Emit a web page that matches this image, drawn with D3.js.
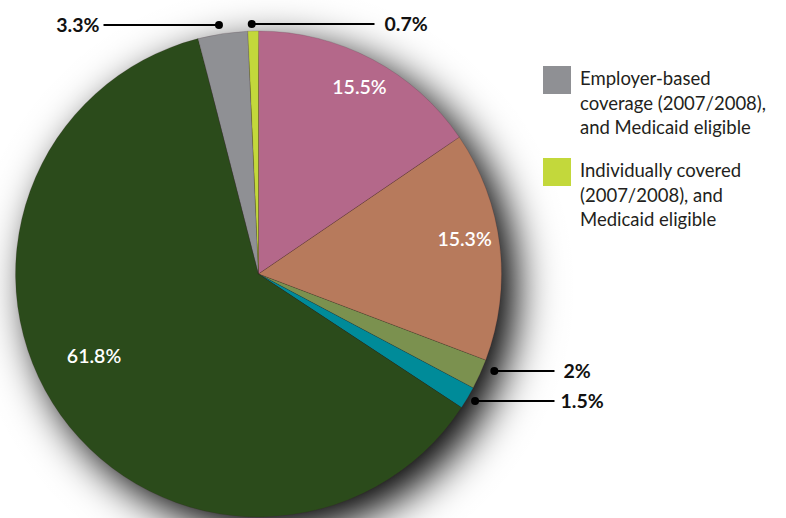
<!DOCTYPE html>
<html>
<head>
<meta charset="utf-8">
<script src="https://cdn.jsdelivr.net/npm/d3@7/dist/d3.min.js"></script>
<style>
  html, body { margin: 0; padding: 0; background: #fff; }
  svg { display: block; font-family: Lato, "Open Sans", sans-serif; }
</style>
</head>
<body>
<svg id="chart" width="786" height="518"></svg>
<script>
// Share of people by coverage group, clockwise from 12 o'clock
const categories = [
  "Group A", "Group B", "Group C", "Group D", "Group E",
  "Employer-based coverage (2007/2008), and Medicaid eligible",
  "Individually covered (2007/2008), and Medicaid eligible"
];
const shares = [15.5, 15.3, 2, 1.5, 61.8, 3.3, 0.7];
const valueLabels = ["15.5%", "15.3%", "2%", "1.5%", "61.8%", "3.3%", "0.7%"];
const sliceColors = ["#b4688a", "#b77a5c", "#7b914f", "#008b99", "#2b4b1b", "#8f9094", "#c3d83b"];

const legendItems = [
  { color: "#8f9094", lines: ["Employer-based", "coverage (2007/2008),", "and Medicaid eligible"] },
  { color: "#c3d83b", lines: ["Individually covered", "(2007/2008), and", "Medicaid eligible"] }
];

const svg = d3.select("#chart");
const cx = 258.5, cy = 274, R = 243;

// soft shadow: a radial gradient with a Gaussian edge profile
const shadowR = R, sigma = 20, outerR = R + 75;
function phi(z) { // standard normal CDF
  const t = 1 / (1 + 0.2316419 * Math.abs(z));
  const dd = 0.3989423 * Math.exp(-z * z / 2);
  const p = dd * t * (0.3193815 + t * (-0.3565638 + t * (1.781478 + t * (-1.821256 + t * 1.330274))));
  return z > 0 ? 1 - p : p;
}
const defs = svg.append("defs");
const grad = defs.append("radialGradient").attr("id", "shade")
  .attr("gradientUnits", "userSpaceOnUse")
  .attr("cx", 0).attr("cy", 0).attr("r", outerR);
d3.range(0, outerR + 0.1, 3).forEach(s => {
  grad.append("stop")
    .attr("offset", s / outerR)
    .attr("stop-color", "#000")
    .attr("stop-opacity", phi((shadowR - s) / sigma));
});

const pie = d3.pie().sort(null).value(d => d)(shares);
const arc = d3.arc().innerRadius(0).outerRadius(R);

const g = svg.append("g").attr("transform", `translate(${cx},${cy})`);

g.append("g").attr("transform", "translate(14,14)")
  .append("circle").attr("r", outerR).attr("fill", "url(#shade)");

g.selectAll("path.slice")
  .data(pie)
  .join("path")
  .attr("class", "slice")
  .attr("d", arc)
  .attr("fill", (d, i) => sliceColors[i])
  .attr("stroke", "rgba(60,30,40,0.35)")
  .attr("stroke-width", 0.5);

// inside labels: radius and angular nudge per slice (radians)
const insideLayout = { 0: { r: 212, da: 0.01 }, 1: { r: 209, da: -0.05 }, 4: { r: 184, da: 0.155 } };
pie.forEach((d, i) => {
  const L = insideLayout[i];
  if (!L) return;
  const a = (d.startAngle + d.endAngle) / 2 + L.da;
  g.append("text")
    .attr("x", L.r * Math.sin(a))
    .attr("y", -L.r * Math.cos(a) + 6.5)
    .attr("text-anchor", "middle")
    .attr("fill", "#fff")
    .attr("font-size", 19.5)
    .attr("font-weight", 600)
    .text(valueLabels[i]);
});

// callouts: dot outside the rim, horizontal leader to the value
const callouts = {
  5: { r: 252, da: -0.01, side: -1, lineEnd: -155, textX: -159 },
  6: { r: 250, da: -0.005, side: 1, lineEnd: 116, textX: 126 },
  2: { r: 255, da: -0.035, side: 1, lineEnd: 296, textX: 305 },
  3: { r: 251, da: -0.005, side: 1, lineEnd: 296, textX: 302 }
};
Object.keys(callouts).forEach(k => {
  const i = +k, c = callouts[k], d = pie[i];
  const a = (d.startAngle + d.endAngle) / 2 + c.da;
  const x = c.r * Math.sin(a), y = -c.r * Math.cos(a);
  g.append("line")
    .attr("x1", x).attr("y1", y).attr("x2", c.lineEnd).attr("y2", y)
    .attr("stroke", "#000").attr("stroke-width", 2);
  g.append("circle").attr("cx", x).attr("cy", y).attr("r", 4).attr("fill", "#000");
  g.append("text")
    .attr("x", c.textX).attr("y", y + 7)
    .attr("text-anchor", c.side < 0 ? "end" : "start")
    .attr("font-size", 19.5).attr("font-weight", 700).attr("fill", "#111")
    .text(valueLabels[i]);
});

// legend
const lg = svg.append("g").attr("transform", "translate(543,66)");
legendItems.forEach((item, j) => {
  const row = lg.append("g").attr("transform", `translate(0,${j * 92})`);
  row.append("rect").attr("width", 28).attr("height", 28).attr("fill", item.color);
  item.lines.forEach((t, k) => {
    row.append("text")
      .attr("x", 37).attr("y", 19 + k * 24.5)
      .attr("font-size", 18.5).attr("fill", "#231f20")
      .text(t);
  });
});
</script>
</body>
</html>
